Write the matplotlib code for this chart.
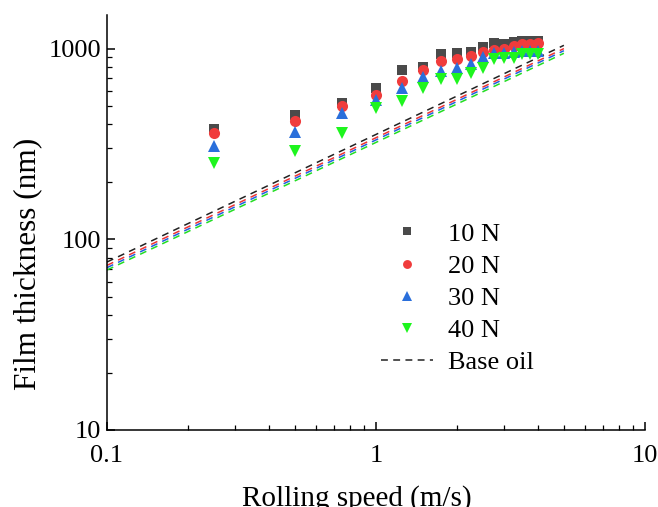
import numpy as np
import matplotlib.pyplot as plt
from matplotlib.ticker import LogLocator, NullFormatter, FixedLocator, FixedFormatter

plt.rcParams['font.family'] = ['Liberation Serif', 'DejaVu Serif']

# rolling speed (m/s) and measured film thickness (nm) per load
speed = [0.25, 0.5, 0.75, 1.0, 1.25, 1.5, 1.75, 2.0, 2.25, 2.5, 2.75, 3.0, 3.25, 3.5, 3.75, 4.0]
h_10N = [380, 446, 521, 625, 770, 805, 940, 945, 955, 1015, 1065, 1062, 1085, 1095, 1100, 1100]
h_20N = [359, 415, 497, 568, 675, 776, 865, 880, 915, 955, 980, 1000, 1035, 1060, 1060, 1065]
h_30N = [308, 367, 457, 535, 620, 710, 767, 790, 830, 900, 953, 953, 955, 975, 976, 976]
h_40N = [250, 292, 363, 486, 530, 620, 690, 695, 745, 790, 886, 890, 897, 940, 942, 942]

# base oil prediction, end points of each line
oil_speed = [0.1, 5.0]
oil_10N = [76, 1040]
oil_20N = [73, 1000]
oil_30N = [71, 975]
oil_40N = [69, 945]

fig = plt.figure(figsize=(6.58, 5.07), dpi=100)
ax = fig.add_axes([0.1626, 0.1519, 0.8174, 0.8185])

dash = (0, (4.5, 3.5))
ax.plot(oil_speed, oil_40N, color='#22dd22', lw=1.1, linestyle=dash)
ax.plot(oil_speed, oil_30N, color='#2060e0', lw=1.1, linestyle=dash)
ax.plot(oil_speed, oil_20N, color='#ee3333', lw=1.1, linestyle=dash)
ax.plot(oil_speed, oil_10N, color='#222222', lw=1.1, linestyle=dash)

ax.plot(speed, h_10N, 's', color='#4a4a4a', ms=7, mew=0, label='10 N')
ax.plot(speed, h_20N, 'o', color='#f03c3c', ms=8, mew=0, label='20 N')
ax.plot(speed, h_30N, '^', color='#2a6fdb', ms=9, mew=0, label='30 N')
ax.plot(speed, h_40N, 'v', color='#1ef51e', ms=9, mew=0, label='40 N')
ax.plot([], [], color='#222222', lw=1.1, linestyle=dash, label='Base oil')

ax.set_xscale('log')
ax.set_yscale('log')
ax.set_xlim(0.1, 10)
ax.set_ylim(10, 1500)

ax.xaxis.set_major_locator(FixedLocator([0.1, 1, 10]))
ax.xaxis.set_major_formatter(FixedFormatter(['0.1', '1', '10']))
ax.yaxis.set_major_locator(FixedLocator([10, 100, 1000]))
ax.yaxis.set_major_formatter(FixedFormatter(['10', '100', '1000']))
ax.xaxis.set_minor_locator(LogLocator(base=10, subs=np.arange(2, 10)))
ax.yaxis.set_minor_locator(LogLocator(base=10, subs=np.arange(2, 10)))
ax.xaxis.set_minor_formatter(NullFormatter())
ax.yaxis.set_minor_formatter(NullFormatter())

for s in ['top', 'right']:
    ax.spines[s].set_visible(False)
for s in ['left', 'bottom']:
    ax.spines[s].set_linewidth(1.1)

ax.tick_params(which='major', direction='in', length=6, width=1.1, labelsize=19)
ax.tick_params(axis='x', which='major', pad=11)
ax.tick_params(axis='y', which='major', pad=4)
ax.tick_params(which='minor', direction='in', length=3.5, width=0.9)

ax.set_xlabel('Rolling speed (m/s)', fontsize=21)
ax.set_ylabel('Film thickness (nm)', fontsize=22.5)
ax.xaxis.set_label_coords(0.465, -0.133)
ax.yaxis.set_label_coords(-0.12, 0.40)

ax.legend(loc='upper left', bbox_to_anchor=(0.489, 0.526), frameon=False, fontsize=19,
          handlelength=2.0, handletextpad=0.55, labelspacing=0.33, borderaxespad=0,
          markerscale=0.8)

fig.savefig('out.png', dpi=100)
